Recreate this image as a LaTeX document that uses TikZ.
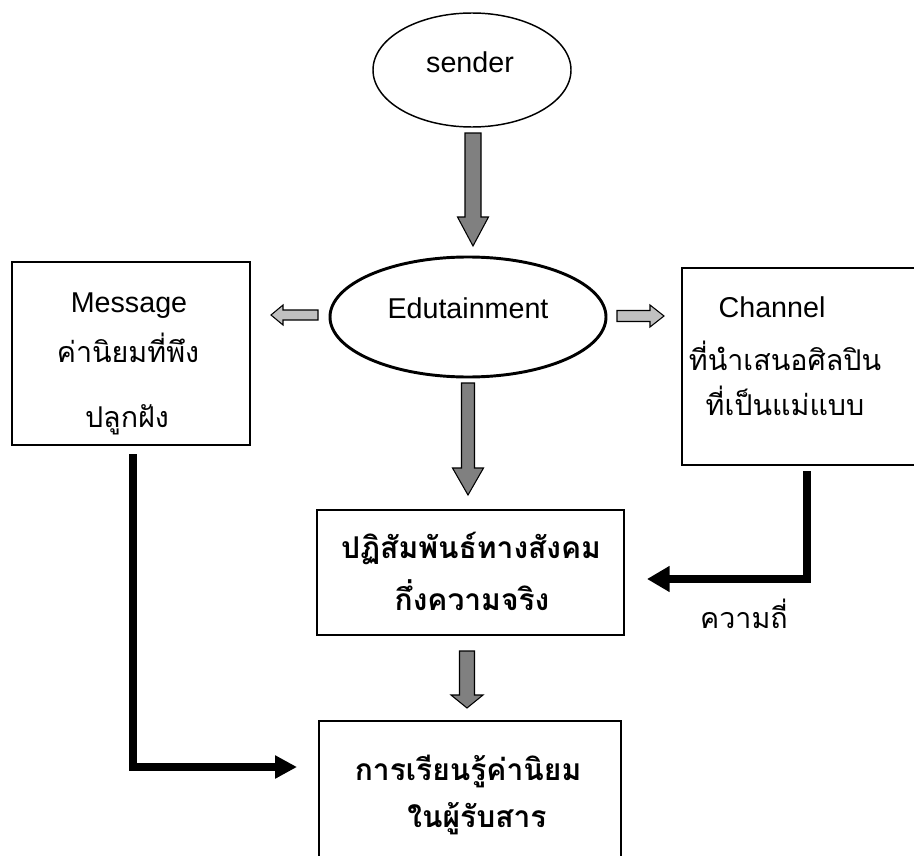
\documentclass[tikz,border=0pt]{standalone}
\usepackage{fontspec}
\setmainfont{Liberation Sans}
\newfontfamily\thai[Script=Thai]{Loma}
\usetikzlibrary{shapes.geometric,arrows.meta,fit}
\definecolor{dkgray}{RGB}{128,128,128}
\definecolor{ltgray}{RGB}{192,192,192}
% block arrow: #1 start, #2 angle, #3 length, #4 shaft half, #5 head half, #6 head length, #7 fill
\newcommand\blkarrow[7]{%
  \begin{scope}[shift={#1},rotate=#2]
    \draw[fill=#7,line width=0.8pt,line join=miter]
      (0,-#4) -- ({#3-#6},-#4) -- ({#3-#6},-#5) -- (#3,0) -- ({#3-#6},#5) -- ({#3-#6},#4) -- (0,#4) -- cycle;
  \end{scope}}
\begin{document}
\begin{tikzpicture}[x=0.75pt,y=-0.75pt,
  box/.style={draw,line width=1.1pt,inner sep=0pt},
  entxt/.style={font=\fontsize{21.5}{25}\selectfont,inner sep=0pt,anchor=base},
  thtxt/.style={font=\thai\fontsize{21.5}{25}\selectfont,inner sep=0pt,anchor=base},
  thbold/.style={font=\thai\bfseries\fontsize{22.5}{26}\selectfont,inner sep=0pt,anchor=base},
  link/.style={line width=6pt,line join=miter}]
\fill[white] (0,0) rectangle (914,856);
\useasboundingbox (0,0) rectangle (914,856);
\clip (0,0) rectangle (914,856);

% ellipses
\node[ellipse,draw,line width=1.1pt,minimum width=148.5pt,minimum height=85.5pt,inner sep=0pt] (sender) at (472,70) {};
\node[entxt] (sendert) at (470,73) {sender};
\node[ellipse,draw,line width=2.2pt,minimum width=207pt,minimum height=90pt,inner sep=0pt] (edu) at (468,317) {};
\node[entxt] (edut) at (468,318) {Edutainment};

% boxes
\node[box,fit={(12,262) (250,445)}] (msg) {};
\node[entxt] (msg1) at (129,312) {Message};
\node[thtxt] (msg2) at (128,362) {ค่านิยมที่พึง};
\node[thtxt] (msg3) at (127,427) {ปลูกฝัง};

\node[box,fit={(682,268) (940,465)}] (chan) {};
\node[entxt] (chan1) at (772,317) {Channel};
\node[thtxt] (chan2) at (785,370) {ที่นำเสนอศิลปิน};
\node[thtxt] (chan3) at (785,415) {ที่เป็นแม่แบบ};

\node[box,fit={(317,510) (624,635)}] (inter) {};
\node[thbold] (inter1) at (471,558) {ปฏิสัมพันธ์ทางสังคม};
\node[thbold] (inter2) at (472,610) {กึ่งความจริง};

\node[box,fit={(319,721) (621,880)}] (learn) {};
\node[thbold] (learn1) at (468,780) {การเรียนรู้ค่านิยม};
\node[thbold] (learn2) at (477,827) {ในผู้รับสาร};

\node[thtxt] (freq) at (744,628) {ความถี่};

% block arrows
\coordinate (a1) at (473,133);
\coordinate (a2) at (468,383);
\coordinate (a3) at (467,651);
\coordinate (a4) at (318,315);
\coordinate (a5) at (617,316);
\blkarrow{(a1)}{-90}{113}{8}{15.5}{29}{dkgray}
\blkarrow{(a2)}{-90}{112}{6.5}{15.5}{27}{dkgray}
\blkarrow{(a3)}{-90}{57}{7.5}{16}{13}{dkgray}
\blkarrow{(a4)}{180}{47}{5}{10}{12}{ltgray}
\blkarrow{(a5)}{0}{47}{5.5}{11}{14}{ltgray}

% thick connectors
\coordinate (m0) at (133,454);
\coordinate (m1) at (297,767);
\coordinate (c0) at (807,471);
\coordinate (c1) at (647,579);
\draw[link,-{Triangle[length=16.5pt,width=16.5pt]}] (m0) |- (m1);
\draw[link,-{Triangle[length=17pt,width=18.5pt]}] (c0) |- (c1);
\end{tikzpicture}
\end{document}
